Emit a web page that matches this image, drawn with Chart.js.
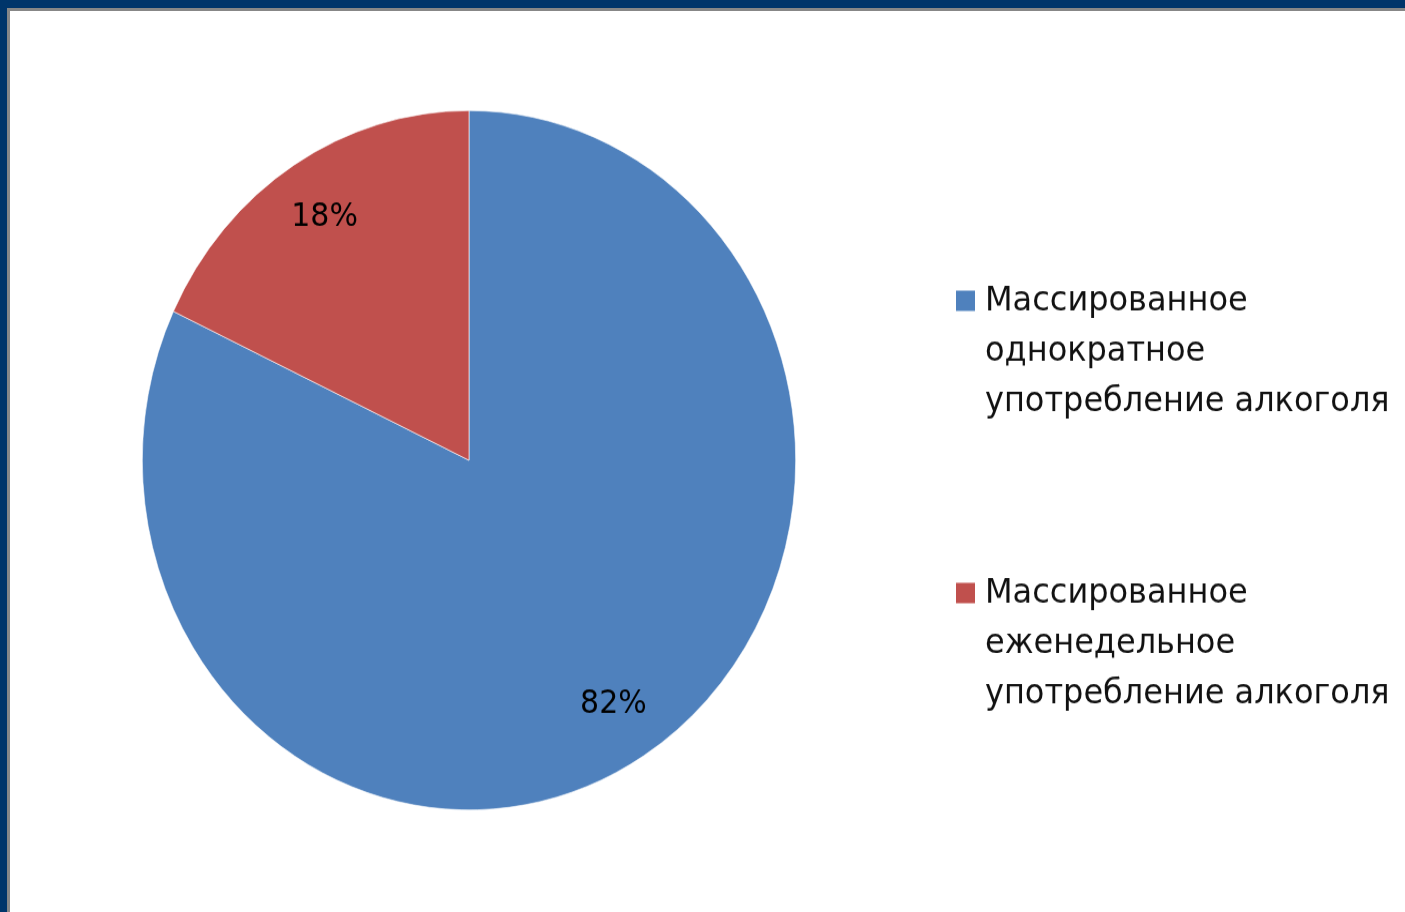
<!DOCTYPE html>
<html>
<head>
<meta charset="utf-8">
<script src="https://cdn.jsdelivr.net/npm/chart.js@4.4.1/dist/chart.umd.min.js"></script>
<style>
  html, body { margin: 0; padding: 0; width: 1405px; height: 912px; overflow: hidden; background: #fff; }
  #frame { position: absolute; left: 0; top: 0; width: 1405px; height: 912px; background: #00356a; }
  #inner { position: absolute; left: 7px; top: 8px; right: 0; bottom: 0; background: #fff;
           border-top: 3px solid #878787; border-left: 3px solid #878787; }
  /* the slide picture is a bit taller than wide, so stretch the chart vertically */
  #wrap { position: absolute; left: 0; top: 0; width: 1405px; height: 852px;
          transform: scaleY(1.0704); transform-origin: 0 0; }
</style>
</head>
<body>
<div id="frame"><div id="inner"></div></div>
<div id="wrap"><canvas id="pieChart" width="1405" height="852" style="width:1405px;height:852px"></canvas></div>

<script>
const labels = [
  ["Массированное", "однократное", "употребление алкоголя"],
  ["Массированное", "еженедельное", "употребление алкоголя"]
];
const values = [82, 18];
const colors = ["#4f81bd", "#c0504d"];

const FONT = "'DejaVu Sans', sans-serif";

// percent labels inside slices
const sliceLabels = {
  id: "sliceLabels",
  afterDatasetsDraw(chart) {
    const ctx = chart.ctx;
    const total = values.reduce((a, b) => a + b, 0);
    ctx.save();
    ctx.font = "30px " + FONT;
    ctx.fillStyle = "#000";
    ctx.textAlign = "center";
    ctx.textBaseline = "middle";
    chart.getDatasetMeta(0).data.forEach((arc, i) => {
      const mid = (arc.startAngle + arc.endAngle) / 2;
      const r = arc.outerRadius * 0.825;
      ctx.fillText(Math.round(values[i] / total * 100) + "%", arc.x + Math.cos(mid) * r, arc.y + Math.sin(mid) * r + 1);
    });
    ctx.restore();
  }
};

// legend on the right, multi-line
const sideLegend = {
  id: "sideLegend",
  afterDraw(chart) {
    const ctx = chart.ctx;
    const boxX = 956, textX = 985;
    const groupTop = [281, 554];
    const lineH = 46.7;
    ctx.save();
    ctx.font = "32px " + FONT;
    ctx.textBaseline = "middle";
    labels.forEach((lines, i) => {
      ctx.fillStyle = colors[i];
      ctx.fillRect(boxX, groupTop[i] - 9.5, 19, 19);
      ctx.fillStyle = "#111";
      lines.forEach((line, j) => {
        ctx.fillText(line, textX, groupTop[i] + j * lineH + 1);
      });
    });
    ctx.restore();
  }
};

new Chart(document.getElementById("pieChart"), {
  type: "pie",
  data: {
    labels: labels.map(l => l.join(" ")),
    datasets: [{
      data: values,
      backgroundColor: colors,
      borderColor: "#ffffff",
      borderWidth: 0.6
    }]
  },
  options: {
    responsive: false,
    animation: false,
    layout: { padding: { left: 142, right: 609, top: 103, bottom: 95 } },
    plugins: {
      legend: { display: false },
      tooltip: { enabled: false }
    }
  },
  plugins: [sliceLabels, sideLegend]
});
</script>
</body>
</html>
